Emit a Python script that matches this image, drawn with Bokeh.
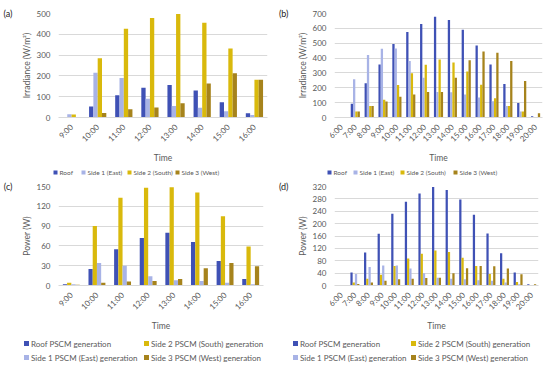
import math
from bokeh.plotting import figure
from bokeh.models import ColumnDataSource, Range1d, FixedTicker, LinearAxis
from bokeh.transform import dodge
from bokeh.layouts import column, row
from bokeh.core.properties import value
from bokeh.embed import file_html
from bokeh.resources import INLINE

# ---------------- data ----------------
times_a = ["9:00", "10:00", "11:00", "12:00", "13:00", "14:00", "15:00", "16:00"]
irr_roof_a = [3, 53, 107, 143, 156, 130, 73, 20]
irr_side1_a = [16, 215, 190, 90, 55, 47, 30, 12]
irr_side2_a = [15, 285, 427, 478, 497, 456, 332, 182]
irr_side3_a = [2, 22, 40, 48, 68, 164, 213, 182]

times_b = ["6:00", "7:00", "8:00", "9:00", "10:00", "11:00", "12:00", "13:00",
           "14:00", "15:00", "16:00", "17:00", "18:00", "19:00", "20:00"]
irr_roof_b = [3, 92, 230, 357, 495, 575, 630, 678, 657, 590, 485, 357, 225, 97, 8]
irr_side1_b = [0, 258, 420, 462, 465, 380, 268, 172, 170, 155, 135, 110, 78, 40, 3]
irr_side2_b = [0, 40, 78, 120, 218, 298, 355, 390, 370, 310, 220, 130, 78, 40, 3]
irr_side3_b = [0, 40, 78, 108, 140, 155, 172, 172, 268, 385, 445, 435, 380, 245, 28]

pow_roof_c = [2, 25, 55, 72, 80, 66, 37, 10]
pow_side2_c = [4, 90, 133, 148, 149, 141, 105, 59]
pow_side1_c = [2, 34, 30, 14, 8, 7, 4, 2]
pow_side3_c = [1, 4, 6, 7, 10, 26, 34, 29]

pow_roof_d = [2, 42, 107, 167, 232, 271, 297, 318, 309, 278, 229, 168, 104, 42, 4]
pow_side2_d = [0, 10, 22, 35, 63, 87, 103, 113, 108, 90, 63, 37, 22, 11, 0]
pow_side1_d = [0, 37, 60, 65, 65, 55, 40, 25, 22, 20, 17, 15, 10, 4, 0]
pow_side3_d = [0, 5, 10, 15, 20, 22, 24, 25, 40, 56, 63, 62, 55, 36, 4]

names_ab = ["Roof", "Side 1 (East)", "Side 2 (South)", "Side 3 (West)"]
names_cd = ["Roof PSCM generation", "Side 2 PSCM (South) generation",
            "Side 1 PSCM (East) generation", "Side 3 PSCM (West) generation"]

C_ROOF = "#3f51b5"
C_S1 = "#a8b3e6"
C_S2 = "#d9b90c"
C_S3 = "#a6831c"

FONT = "Lato"
TXT = "#595959"
W = 275


def make_panel(tag, times, series, colors, ymax, ystep, ylabel,
               height, bl, br, bt, bb):
    p = figure(x_range=times, y_range=Range1d(0, ymax), width=W, height=height,
               output_backend="svg", toolbar_location=None,
               min_border_left=bl, min_border_right=br, min_border_top=bt,
               min_border_bottom=bb)
    p.outline_line_color = None
    p.xgrid.grid_line_color = None
    p.ygrid.grid_line_color = "#d9d9d9"
    p.yaxis.ticker = FixedTicker(ticks=list(range(0, ymax + 1, ystep)))
    p.yaxis.axis_line_color = None
    p.yaxis.major_tick_line_color = None
    p.yaxis.minor_tick_line_color = None
    p.xaxis.axis_line_color = "#d9d9d9"
    p.xaxis.major_tick_line_color = None
    p.xaxis.major_label_orientation = math.pi / 4
    for ax in (p.xaxis, p.yaxis):
        ax.major_label_text_font = FONT
        ax.major_label_text_font_size = "8px"
        ax.major_label_text_color = TXT
        ax.axis_label_text_font = FONT
        ax.axis_label_text_font_size = "8.5px"
        ax.axis_label_text_font_style = "normal"
        ax.axis_label_text_color = TXT
        ax.major_label_standoff = 2
    p.xaxis.axis_label = "Time"
    p.xaxis.axis_label_standoff = 3
    p.yaxis.axis_label = ylabel
    p.yaxis.axis_label_standoff = 2

    # panel tag "(a)" etc. drawn as the only label of an outer left axis
    p.extra_y_ranges = {"tag": Range1d(0, 1)}
    tag_axis = LinearAxis(y_range_name="tag", ticker=FixedTicker(ticks=[1]),
                          major_label_overrides={1: tag},
                          axis_line_color=None, major_tick_line_color=None,
                          minor_tick_line_color=None, major_label_standoff=0,
                          major_label_text_font=FONT,
                          major_label_text_font_size="9px",
                          major_label_text_color="#222222")
    p.add_layout(tag_axis, "left")

    data = {"t": times}
    for i, s in enumerate(series):
        data[f"s{i}"] = s
    src = ColumnDataSource(data)
    w = 0.165
    offs = [-1.5 * w, -0.5 * w, 0.5 * w, 1.5 * w]
    for i in range(4):
        p.vbar(x=dodge("t", offs[i], range=p.x_range), top=f"s{i}", width=w,
               source=src, fill_color=colors[i], line_color=None)
    return p


def make_legend(names, colors, xs, ys, height, font_size, sq):
    p = figure(width=W, height=height, x_range=Range1d(0, W),
               y_range=Range1d(height, 0), output_backend="svg",
               toolbar_location=None, x_axis_type=None, y_axis_type=None,
               min_border=0)
    p.outline_line_color = None
    p.grid.visible = False
    src = ColumnDataSource(dict(x=xs, y=ys, c=colors, n=names,
                                tx=[v + sq / 2 + 2 for v in xs]))
    p.scatter(x="x", y="y", marker="square", size=sq, fill_color="c",
              line_color=None, source=src)
    p.text(x="tx", y="y", text="n", source=src, text_font=value(FONT),
           text_font_size=font_size, text_color=TXT, text_baseline="middle",
           text_align="left")
    return p


pa = make_panel("(a)", times_a, [irr_roof_a, irr_side1_a, irr_side2_a, irr_side3_a],
                [C_ROOF, C_S1, C_S2, C_S3], 500, 100, "Irradiance (W/m²)",
                166, 38, 8, 13, 42)
pb = make_panel("(b)", times_b, [irr_roof_b, irr_side1_b, irr_side2_b, irr_side3_b],
                [C_ROOF, C_S1, C_S2, C_S3], 700, 100, "Irradiance (W/m²)",
                166, 37, 8, 13, 42)
pc = make_panel("(c)", times_a, [pow_roof_c, pow_side2_c, pow_side1_c, pow_side3_c],
                [C_ROOF, C_S2, C_S1, C_S3], 150, 30, "Power (W)",
                156, 35, 12, 8, 43)
pd_ = make_panel("(d)", times_b, [pow_roof_d, pow_side2_d, pow_side1_d, pow_side3_d],
                 [C_ROOF, C_S2, C_S1, C_S3], 320, 40, "Power (W)",
                 156, 33, 12, 8, 43)

la = make_legend(names_ab, [C_ROOF, C_S1, C_S2, C_S3],
                 [55, 83, 129, 177], [6, 6, 6, 6], 12, "6.5px", 4)
lb = make_legend(names_ab, [C_ROOF, C_S1, C_S2, C_S3],
                 [54, 80, 127, 180], [6, 6, 6, 6], 12, "6.5px", 4)
lc = make_legend(names_cd, [C_ROOF, C_S2, C_S1, C_S3],
                 [26, 146, 26, 146], [9, 9, 23, 23], 35, "8px", 5)
ld = make_legend(names_cd, [C_ROOF, C_S2, C_S1, C_S3],
                 [20, 138, 20, 138], [9, 9, 23, 23], 35, "8px", 5)

layout = column(row(pa, pb), row(la, lb), row(pc, pd_), row(lc, ld))
open("out.html", "w").write(file_html(layout, INLINE))
